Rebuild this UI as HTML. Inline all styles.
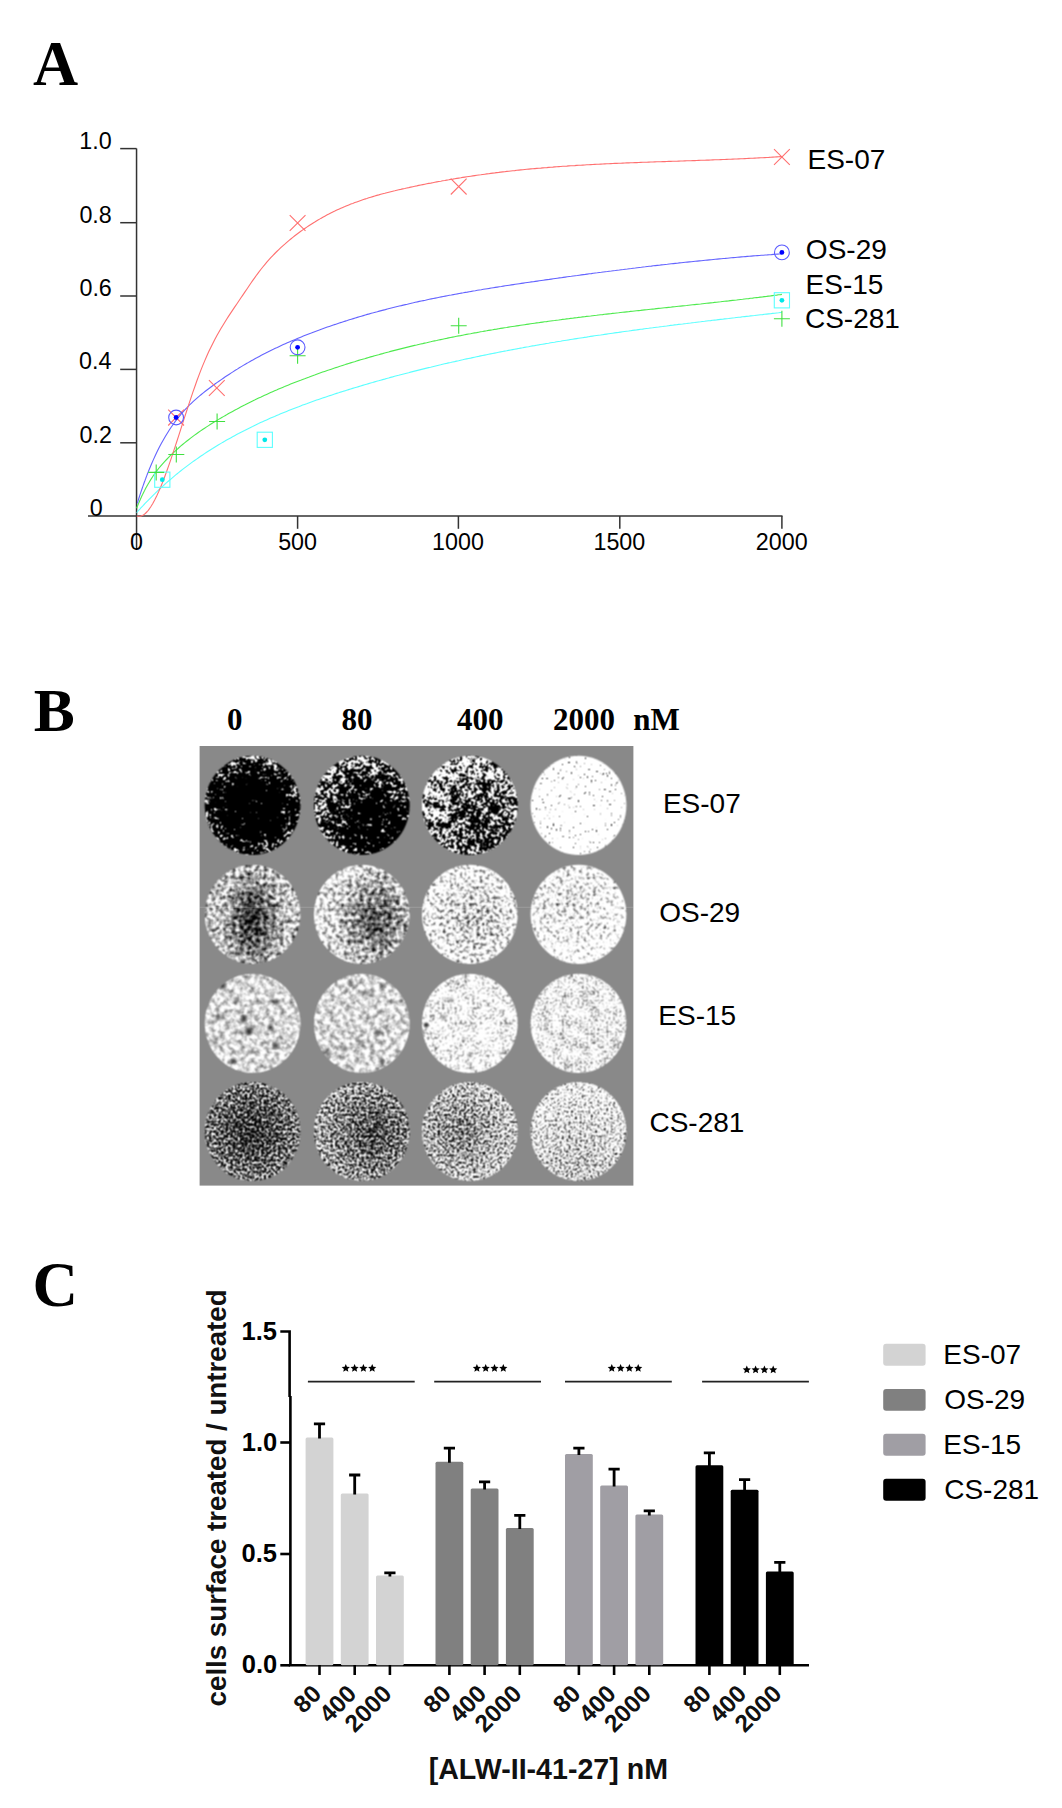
<!DOCTYPE html>
<html><head><meta charset="utf-8"><style>
html,body{margin:0;padding:0;background:#fff;}
svg{display:block;}
</style></head><body>
<svg width="1062" height="1808" viewBox="0 0 1062 1808">
<rect width="1062" height="1808" fill="#fff"/>
<text x="32.99" y="84.60" font-family='"Liberation Serif", serif' font-weight="bold" font-size="62.5" fill="#000" >A</text>
<text x="33.68" y="730.60" font-family='"Liberation Serif", serif' font-weight="bold" font-size="61.5" fill="#000" >B</text>
<text x="32.42" y="1305.50" font-family='"Liberation Serif", serif' font-weight="bold" font-size="63" fill="#000" >C</text>
<g stroke="#333" stroke-width="1.5" fill="none">
<line x1="136.55" y1="148.6" x2="136.55" y2="549"/>
<line x1="88" y1="516.0" x2="782.5" y2="516.0"/>
<line x1="120.2" y1="148.6" x2="136.55" y2="148.6"/>
<line x1="120.2" y1="222.7" x2="136.55" y2="222.7"/>
<line x1="120.2" y1="296.0" x2="136.55" y2="296.0"/>
<line x1="120.2" y1="369.4" x2="136.55" y2="369.4"/>
<line x1="120.2" y1="442.8" x2="136.55" y2="442.8"/>
<line x1="297.6" y1="516.0" x2="297.6" y2="528.8"/>
<line x1="458.4" y1="516.0" x2="458.4" y2="528.8"/>
<line x1="619.8" y1="516.0" x2="619.8" y2="528.8"/>
<line x1="781.9" y1="516.0" x2="781.9" y2="528.8"/>
</g>
<text x="79.32" y="148.60" font-family='"Liberation Sans", sans-serif' font-weight="normal" font-size="23.3" fill="#000" >1.0</text>
<text x="79.42" y="222.70" font-family='"Liberation Sans", sans-serif' font-weight="normal" font-size="23.3" fill="#000" >0.8</text>
<text x="79.43" y="296.00" font-family='"Liberation Sans", sans-serif' font-weight="normal" font-size="23.3" fill="#000" >0.6</text>
<text x="79.09" y="369.40" font-family='"Liberation Sans", sans-serif' font-weight="normal" font-size="23.3" fill="#000" >0.4</text>
<text x="79.58" y="442.80" font-family='"Liberation Sans", sans-serif' font-weight="normal" font-size="23.3" fill="#000" >0.2</text>
<text x="89.79" y="516.00" font-family='"Liberation Sans", sans-serif' font-weight="normal" font-size="23.3" fill="#000" >0</text>
<text x="130.07" y="549.50" font-family='"Liberation Sans", sans-serif' font-weight="normal" font-size="23.3" fill="#000" >0</text>
<text x="278.15" y="549.50" font-family='"Liberation Sans", sans-serif' font-weight="normal" font-size="23.3" fill="#000" >500</text>
<text x="432.05" y="549.50" font-family='"Liberation Sans", sans-serif' font-weight="normal" font-size="23.3" fill="#000" >1000</text>
<text x="593.45" y="549.50" font-family='"Liberation Sans", sans-serif' font-weight="normal" font-size="23.3" fill="#000" >1500</text>
<text x="755.85" y="549.50" font-family='"Liberation Sans", sans-serif' font-weight="normal" font-size="23.3" fill="#000" >2000</text>
<path d="M136.6,512.6 L137.1,512.1 L137.6,511.5 L138.1,511.0 L138.6,510.4 L139.1,509.9 L139.6,509.3 L140.1,508.8 L140.6,508.2 L141.1,507.7 L141.6,507.2 L142.1,506.6 L142.6,506.1 L143.1,505.6 L143.6,505.0 L144.1,504.5 L144.6,504.0 L145.1,503.4 L145.6,502.9 L146.1,502.4 L146.6,501.9 L147.1,501.4 L147.6,500.9 L148.1,500.3 L148.6,499.8 L150.6,497.8 L152.6,495.8 L154.6,493.9 L156.6,491.9 L158.6,490.0 L160.6,488.2 L162.6,486.3 L164.6,484.5 L166.6,482.7 L168.6,481.0 L170.6,479.3 L172.6,477.6 L174.6,475.9 L176.6,474.2 L178.6,472.6 L180.6,471.0 L182.6,469.4 L184.6,467.9 L186.6,466.4 L188.6,464.9 L190.6,463.4 L192.6,461.9 L194.6,460.5 L196.6,459.1 L198.6,457.7 L200.6,456.3 L202.6,455.0 L204.6,453.6 L206.6,452.3 L208.6,451.0 L210.6,449.7 L212.6,448.5 L214.6,447.2 L216.6,446.0 L218.6,444.8 L220.6,443.6 L222.6,442.4 L224.6,441.3 L226.6,440.1 L228.6,439.0 L230.6,437.9 L232.6,436.8 L234.6,435.7 L236.6,434.6 L238.6,433.6 L240.6,432.5 L242.6,431.5 L244.6,430.5 L246.6,429.4 L248.6,428.4 L250.6,427.4 L252.6,426.5 L254.6,425.5 L256.6,424.5 L258.6,423.6 L260.6,422.6 L262.6,421.7 L264.6,420.8 L266.6,419.9 L268.6,419.0 L270.6,418.1 L272.6,417.2 L274.6,416.4 L276.6,415.5 L278.6,414.7 L280.6,413.8 L282.6,413.0 L284.6,412.2 L286.6,411.4 L288.6,410.6 L290.6,409.8 L292.6,409.0 L294.6,408.2 L296.6,407.4 L298.6,406.7 L300.6,405.9 L302.6,405.1 L304.6,404.4 L306.6,403.7 L308.6,402.9 L310.6,402.2 L312.6,401.5 L314.6,400.8 L316.6,400.1 L318.6,399.4 L320.6,398.7 L322.6,398.0 L324.6,397.4 L326.6,396.7 L328.6,396.0 L330.6,395.4 L332.6,394.7 L334.6,394.0 L336.6,393.4 L338.6,392.8 L340.6,392.1 L342.6,391.5 L344.6,390.9 L346.6,390.2 L348.6,389.6 L350.6,389.0 L352.6,388.4 L354.6,387.8 L356.6,387.2 L358.6,386.6 L360.6,386.0 L362.6,385.4 L364.6,384.8 L366.6,384.2 L368.6,383.6 L370.6,383.0 L372.6,382.5 L374.6,381.9 L376.6,381.3 L378.6,380.8 L380.6,380.2 L382.6,379.6 L384.6,379.1 L386.6,378.5 L388.6,378.0 L390.6,377.4 L392.6,376.9 L394.6,376.3 L396.6,375.8 L398.6,375.3 L400.6,374.7 L402.6,374.2 L404.6,373.7 L406.6,373.2 L408.6,372.7 L410.6,372.1 L412.6,371.6 L414.6,371.1 L416.6,370.6 L418.6,370.1 L420.6,369.6 L422.6,369.1 L424.6,368.6 L426.6,368.1 L428.6,367.6 L430.6,367.2 L432.6,366.7 L434.6,366.2 L436.6,365.7 L438.6,365.2 L440.6,364.8 L442.6,364.3 L444.6,363.8 L446.6,363.4 L448.6,362.9 L450.6,362.5 L452.6,362.0 L454.6,361.6 L456.6,361.1 L458.6,360.7 L460.6,360.2 L462.6,359.8 L464.6,359.3 L466.6,358.9 L468.6,358.5 L470.6,358.1 L472.6,357.6 L474.6,357.2 L476.6,356.8 L478.6,356.4 L480.6,355.9 L482.6,355.5 L484.6,355.1 L486.6,354.7 L488.6,354.3 L490.6,353.9 L492.6,353.5 L494.6,353.1 L496.6,352.7 L498.6,352.3 L500.6,351.9 L502.6,351.5 L504.6,351.1 L506.6,350.8 L508.6,350.4 L510.6,350.0 L512.6,349.6 L514.6,349.2 L516.6,348.9 L518.6,348.5 L520.6,348.1 L522.6,347.8 L524.6,347.4 L526.6,347.0 L528.6,346.7 L530.6,346.3 L532.6,345.9 L534.6,345.6 L536.6,345.2 L538.6,344.9 L540.6,344.5 L542.6,344.2 L544.6,343.9 L546.6,343.5 L548.6,343.2 L550.6,342.8 L552.6,342.5 L554.6,342.2 L556.6,341.8 L558.6,341.5 L560.6,341.2 L562.6,340.8 L564.6,340.5 L566.6,340.2 L568.6,339.9 L570.6,339.5 L572.6,339.2 L574.6,338.9 L576.6,338.6 L578.6,338.3 L580.6,338.0 L582.6,337.7 L584.6,337.4 L586.6,337.1 L588.6,336.7 L590.6,336.4 L592.6,336.1 L594.6,335.8 L596.6,335.5 L598.6,335.2 L600.6,335.0 L602.6,334.7 L604.6,334.4 L606.6,334.1 L608.6,333.8 L610.6,333.5 L612.6,333.2 L614.6,332.9 L616.6,332.6 L618.6,332.4 L620.6,332.1 L622.6,331.8 L624.6,331.5 L626.6,331.2 L628.6,331.0 L630.6,330.7 L632.6,330.4 L634.6,330.1 L636.6,329.9 L638.6,329.6 L640.6,329.3 L642.6,329.1 L644.6,328.8 L646.6,328.5 L648.6,328.3 L650.6,328.0 L652.6,327.8 L654.6,327.5 L656.6,327.2 L658.6,327.0 L660.6,326.7 L662.6,326.5 L664.6,326.2 L666.6,326.0 L668.6,325.7 L670.6,325.4 L672.6,325.2 L674.6,324.9 L676.6,324.7 L678.6,324.4 L680.6,324.2 L682.6,324.0 L684.6,323.7 L686.6,323.5 L688.6,323.2 L690.6,323.0 L692.6,322.7 L694.6,322.5 L696.6,322.2 L698.6,322.0 L700.6,321.8 L702.6,321.5 L704.6,321.3 L706.6,321.0 L708.6,320.8 L710.6,320.6 L712.6,320.3 L714.6,320.1 L716.6,319.9 L718.6,319.6 L720.6,319.4 L722.6,319.2 L724.6,318.9 L726.6,318.7 L728.6,318.5 L730.6,318.2 L732.6,318.0 L734.6,317.8 L736.6,317.5 L738.6,317.3 L740.6,317.1 L742.6,316.8 L744.6,316.6 L746.6,316.4 L748.6,316.2 L750.6,315.9 L752.6,315.7 L754.6,315.5 L756.6,315.2 L758.6,315.0 L760.6,314.8 L762.6,314.6 L764.6,314.3 L766.6,314.1 L768.6,313.9 L770.6,313.7 L772.6,313.4 L774.6,313.2 L776.6,313.0 L778.6,312.8 L780.6,312.5 L781.9,312.4" fill="none" stroke="#5cffff" stroke-width="1.1"/>
<path d="M136.6,508.2 L137.1,507.0 L137.6,505.8 L138.1,504.5 L138.6,503.4 L139.1,502.2 L139.6,501.0 L140.1,499.9 L140.6,498.8 L141.1,497.7 L141.6,496.6 L142.1,495.5 L142.6,494.5 L143.1,493.4 L143.6,492.4 L144.1,491.4 L144.6,490.5 L145.1,489.5 L145.6,488.5 L146.1,487.6 L146.6,486.7 L147.1,485.8 L147.6,484.9 L148.1,484.0 L148.6,483.2 L150.6,479.9 L152.6,476.8 L154.6,473.8 L156.6,471.1 L158.6,468.5 L160.6,466.1 L162.6,463.8 L164.6,461.6 L166.6,459.5 L168.6,457.4 L170.6,455.4 L172.6,453.5 L174.6,451.6 L176.6,449.8 L178.6,448.0 L180.6,446.2 L182.6,444.5 L184.6,442.9 L186.6,441.3 L188.6,439.7 L190.6,438.1 L192.6,436.6 L194.6,435.1 L196.6,433.7 L198.6,432.3 L200.6,430.9 L202.6,429.5 L204.6,428.2 L206.6,426.9 L208.6,425.6 L210.6,424.3 L212.6,423.0 L214.6,421.8 L216.6,420.6 L218.6,419.4 L220.6,418.2 L222.6,417.1 L224.6,415.9 L226.6,414.8 L228.6,413.6 L230.6,412.5 L232.6,411.4 L234.6,410.3 L236.6,409.3 L238.6,408.2 L240.6,407.1 L242.6,406.1 L244.6,405.1 L246.6,404.0 L248.6,403.0 L250.6,402.0 L252.6,401.0 L254.6,400.1 L256.6,399.1 L258.6,398.1 L260.6,397.2 L262.6,396.2 L264.6,395.3 L266.6,394.4 L268.6,393.5 L270.6,392.6 L272.6,391.7 L274.6,390.8 L276.6,390.0 L278.6,389.1 L280.6,388.2 L282.6,387.4 L284.6,386.6 L286.6,385.7 L288.6,384.9 L290.6,384.1 L292.6,383.3 L294.6,382.5 L296.6,381.7 L298.6,380.9 L300.6,380.2 L302.6,379.4 L304.6,378.7 L306.6,377.9 L308.6,377.2 L310.6,376.4 L312.6,375.7 L314.6,375.0 L316.6,374.2 L318.6,373.5 L320.6,372.8 L322.6,372.1 L324.6,371.4 L326.6,370.7 L328.6,370.1 L330.6,369.4 L332.6,368.7 L334.6,368.0 L336.6,367.4 L338.6,366.7 L340.6,366.1 L342.6,365.4 L344.6,364.8 L346.6,364.1 L348.6,363.5 L350.6,362.9 L352.6,362.3 L354.6,361.7 L356.6,361.0 L358.6,360.4 L360.6,359.8 L362.6,359.2 L364.6,358.7 L366.6,358.1 L368.6,357.5 L370.6,356.9 L372.6,356.4 L374.6,355.8 L376.6,355.2 L378.6,354.7 L380.6,354.1 L382.6,353.6 L384.6,353.0 L386.6,352.5 L388.6,352.0 L390.6,351.4 L392.6,350.9 L394.6,350.4 L396.6,349.9 L398.6,349.4 L400.6,348.9 L402.6,348.4 L404.6,347.9 L406.6,347.4 L408.6,346.9 L410.6,346.4 L412.6,345.9 L414.6,345.4 L416.6,345.0 L418.6,344.5 L420.6,344.0 L422.6,343.6 L424.6,343.1 L426.6,342.7 L428.6,342.2 L430.6,341.8 L432.6,341.3 L434.6,340.9 L436.6,340.5 L438.6,340.0 L440.6,339.6 L442.6,339.2 L444.6,338.8 L446.6,338.4 L448.6,337.9 L450.6,337.5 L452.6,337.1 L454.6,336.7 L456.6,336.3 L458.6,335.9 L460.6,335.6 L462.6,335.2 L464.6,334.8 L466.6,334.4 L468.6,334.0 L470.6,333.7 L472.6,333.3 L474.6,332.9 L476.6,332.6 L478.6,332.2 L480.6,331.8 L482.6,331.5 L484.6,331.1 L486.6,330.8 L488.6,330.4 L490.6,330.1 L492.6,329.8 L494.6,329.4 L496.6,329.1 L498.6,328.7 L500.6,328.4 L502.6,328.1 L504.6,327.8 L506.6,327.5 L508.6,327.1 L510.6,326.8 L512.6,326.5 L514.6,326.2 L516.6,325.9 L518.6,325.6 L520.6,325.3 L522.6,325.0 L524.6,324.7 L526.6,324.4 L528.6,324.1 L530.6,323.8 L532.6,323.5 L534.6,323.2 L536.6,322.9 L538.6,322.7 L540.6,322.4 L542.6,322.1 L544.6,321.8 L546.6,321.6 L548.6,321.3 L550.6,321.0 L552.6,320.7 L554.6,320.5 L556.6,320.2 L558.6,320.0 L560.6,319.7 L562.6,319.4 L564.6,319.2 L566.6,318.9 L568.6,318.7 L570.6,318.4 L572.6,318.2 L574.6,317.9 L576.6,317.7 L578.6,317.4 L580.6,317.2 L582.6,316.9 L584.6,316.7 L586.6,316.4 L588.6,316.2 L590.6,316.0 L592.6,315.7 L594.6,315.5 L596.6,315.3 L598.6,315.0 L600.6,314.8 L602.6,314.6 L604.6,314.3 L606.6,314.1 L608.6,313.9 L610.6,313.7 L612.6,313.4 L614.6,313.2 L616.6,313.0 L618.6,312.8 L620.6,312.5 L622.6,312.3 L624.6,312.1 L626.6,311.9 L628.6,311.7 L630.6,311.4 L632.6,311.2 L634.6,311.0 L636.6,310.8 L638.6,310.6 L640.6,310.4 L642.6,310.1 L644.6,309.9 L646.6,309.7 L648.6,309.5 L650.6,309.3 L652.6,309.1 L654.6,308.9 L656.6,308.6 L658.6,308.4 L660.6,308.2 L662.6,308.0 L664.6,307.8 L666.6,307.6 L668.6,307.4 L670.6,307.2 L672.6,306.9 L674.6,306.7 L676.6,306.5 L678.6,306.3 L680.6,306.1 L682.6,305.9 L684.6,305.7 L686.6,305.5 L688.6,305.2 L690.6,305.0 L692.6,304.8 L694.6,304.6 L696.6,304.4 L698.6,304.2 L700.6,304.0 L702.6,303.7 L704.6,303.5 L706.6,303.3 L708.6,303.1 L710.6,302.9 L712.6,302.7 L714.6,302.4 L716.6,302.2 L718.6,302.0 L720.6,301.8 L722.6,301.5 L724.6,301.3 L726.6,301.1 L728.6,300.9 L730.6,300.6 L732.6,300.4 L734.6,300.2 L736.6,300.0 L738.6,299.7 L740.6,299.5 L742.6,299.3 L744.6,299.0 L746.6,298.8 L748.6,298.6 L750.6,298.3 L752.6,298.1 L754.6,297.8 L756.6,297.6 L758.6,297.4 L760.6,297.1 L762.6,296.9 L764.6,296.6 L766.6,296.4 L768.6,296.1 L770.6,295.9 L772.6,295.6 L774.6,295.3 L776.6,295.1 L778.6,294.8 L780.6,294.6 L781.9,294.4" fill="none" stroke="#4fea4f" stroke-width="1.1"/>
<path d="M137.3,503.3 L137.8,501.7 L138.3,500.1 L138.8,498.5 L139.3,497.0 L139.8,495.4 L140.3,493.9 L140.8,492.4 L141.3,490.9 L141.8,489.5 L142.3,488.0 L142.8,486.6 L143.3,485.1 L143.8,483.7 L144.3,482.3 L144.8,481.0 L145.3,479.6 L145.8,478.3 L146.3,476.9 L146.8,475.6 L147.3,474.3 L147.8,473.0 L148.3,471.8 L148.8,470.5 L149.3,469.3 L151.3,464.5 L153.3,459.9 L155.3,455.5 L157.3,451.3 L159.3,447.3 L161.3,443.5 L163.3,439.9 L165.3,436.5 L167.3,433.2 L169.3,430.0 L171.3,427.0 L173.3,424.2 L175.3,421.4 L177.3,418.8 L179.3,416.3 L181.3,413.9 L183.3,411.6 L185.3,409.4 L187.3,407.3 L189.3,405.2 L191.3,403.3 L193.3,401.4 L195.3,399.6 L197.3,397.8 L199.3,396.2 L201.3,394.5 L203.3,392.9 L205.3,391.3 L207.3,389.8 L209.3,388.3 L211.3,386.8 L213.3,385.3 L215.3,383.8 L217.3,382.4 L219.3,381.0 L221.3,379.6 L223.3,378.2 L225.3,376.8 L227.3,375.5 L229.3,374.2 L231.3,372.9 L233.3,371.6 L235.3,370.3 L237.3,369.1 L239.3,367.8 L241.3,366.6 L243.3,365.4 L245.3,364.2 L247.3,363.1 L249.3,361.9 L251.3,360.8 L253.3,359.7 L255.3,358.5 L257.3,357.5 L259.3,356.4 L261.3,355.3 L263.3,354.3 L265.3,353.3 L267.3,352.2 L269.3,351.2 L271.3,350.2 L273.3,349.3 L275.3,348.3 L277.3,347.4 L279.3,346.4 L281.3,345.5 L283.3,344.6 L285.3,343.7 L287.3,342.8 L289.3,341.9 L291.3,341.0 L293.3,340.2 L295.3,339.4 L297.3,338.5 L299.3,337.7 L301.3,336.9 L303.3,336.1 L305.3,335.3 L307.3,334.5 L309.3,333.7 L311.3,333.0 L313.3,332.2 L315.3,331.4 L317.3,330.7 L319.3,330.0 L321.3,329.2 L323.3,328.5 L325.3,327.8 L327.3,327.1 L329.3,326.4 L331.3,325.7 L333.3,325.0 L335.3,324.4 L337.3,323.7 L339.3,323.0 L341.3,322.4 L343.3,321.7 L345.3,321.1 L347.3,320.5 L349.3,319.8 L351.3,319.2 L353.3,318.6 L355.3,318.0 L357.3,317.4 L359.3,316.8 L361.3,316.2 L363.3,315.6 L365.3,315.0 L367.3,314.4 L369.3,313.9 L371.3,313.3 L373.3,312.8 L375.3,312.2 L377.3,311.7 L379.3,311.1 L381.3,310.6 L383.3,310.1 L385.3,309.6 L387.3,309.0 L389.3,308.5 L391.3,308.0 L393.3,307.5 L395.3,307.0 L397.3,306.5 L399.3,306.0 L401.3,305.6 L403.3,305.1 L405.3,304.6 L407.3,304.2 L409.3,303.7 L411.3,303.2 L413.3,302.8 L415.3,302.3 L417.3,301.9 L419.3,301.4 L421.3,301.0 L423.3,300.6 L425.3,300.2 L427.3,299.7 L429.3,299.3 L431.3,298.9 L433.3,298.5 L435.3,298.1 L437.3,297.7 L439.3,297.3 L441.3,296.9 L443.3,296.5 L445.3,296.1 L447.3,295.7 L449.3,295.3 L451.3,295.0 L453.3,294.6 L455.3,294.2 L457.3,293.9 L459.3,293.5 L461.3,293.1 L463.3,292.8 L465.3,292.4 L467.3,292.1 L469.3,291.7 L471.3,291.4 L473.3,291.0 L475.3,290.7 L477.3,290.3 L479.3,290.0 L481.3,289.7 L483.3,289.3 L485.3,289.0 L487.3,288.7 L489.3,288.4 L491.3,288.0 L493.3,287.7 L495.3,287.4 L497.3,287.1 L499.3,286.8 L501.3,286.5 L503.3,286.1 L505.3,285.8 L507.3,285.5 L509.3,285.2 L511.3,284.9 L513.3,284.6 L515.3,284.3 L517.3,284.0 L519.3,283.7 L521.3,283.4 L523.3,283.1 L525.3,282.8 L527.3,282.5 L529.3,282.2 L531.3,281.9 L533.3,281.7 L535.3,281.4 L537.3,281.1 L539.3,280.8 L541.3,280.5 L543.3,280.2 L545.3,279.9 L547.3,279.6 L549.3,279.4 L551.3,279.1 L553.3,278.8 L555.3,278.5 L557.3,278.2 L559.3,277.9 L561.3,277.7 L563.3,277.4 L565.3,277.1 L567.3,276.8 L569.3,276.5 L571.3,276.3 L573.3,276.0 L575.3,275.7 L577.3,275.5 L579.3,275.2 L581.3,274.9 L583.3,274.6 L585.3,274.4 L587.3,274.1 L589.3,273.8 L591.3,273.6 L593.3,273.3 L595.3,273.0 L597.3,272.8 L599.3,272.5 L601.3,272.3 L603.3,272.0 L605.3,271.7 L607.3,271.5 L609.3,271.2 L611.3,271.0 L613.3,270.7 L615.3,270.5 L617.3,270.2 L619.3,270.0 L621.3,269.7 L623.3,269.5 L625.3,269.2 L627.3,269.0 L629.3,268.7 L631.3,268.5 L633.3,268.2 L635.3,268.0 L637.3,267.7 L639.3,267.5 L641.3,267.3 L643.3,267.0 L645.3,266.8 L647.3,266.5 L649.3,266.3 L651.3,266.1 L653.3,265.8 L655.3,265.6 L657.3,265.4 L659.3,265.2 L661.3,264.9 L663.3,264.7 L665.3,264.5 L667.3,264.3 L669.3,264.0 L671.3,263.8 L673.3,263.6 L675.3,263.4 L677.3,263.2 L679.3,262.9 L681.3,262.7 L683.3,262.5 L685.3,262.3 L687.3,262.1 L689.3,261.9 L691.3,261.7 L693.3,261.5 L695.3,261.3 L697.3,261.1 L699.3,260.9 L701.3,260.7 L703.3,260.5 L705.3,260.3 L707.3,260.1 L709.3,259.9 L711.3,259.7 L713.3,259.5 L715.3,259.3 L717.3,259.1 L719.3,258.9 L721.3,258.7 L723.3,258.5 L725.3,258.4 L727.3,258.2 L729.3,258.0 L731.3,257.8 L733.3,257.6 L735.3,257.5 L737.3,257.3 L739.3,257.1 L741.3,256.9 L743.3,256.8 L745.3,256.6 L747.3,256.4 L749.3,256.3 L751.3,256.1 L753.3,255.9 L755.3,255.8 L757.3,255.6 L759.3,255.5 L761.3,255.3 L763.3,255.2 L765.3,255.0 L767.3,254.9 L769.3,254.7 L771.3,254.6 L773.3,254.4 L775.3,254.3 L777.3,254.1 L779.3,254.0 L781.3,253.8 L781.9,253.8" fill="none" stroke="#6464ff" stroke-width="1.1"/>
<path d="M136.8,516.0 L137.3,516.1 L137.8,516.2 L138.3,516.3 L138.8,516.3 L139.3,516.3 L139.8,516.3 L140.3,516.2 L140.8,516.1 L141.3,515.9 L141.8,515.8 L142.3,515.5 L142.8,515.3 L143.3,515.0 L143.8,514.7 L144.3,514.3 L144.8,513.9 L145.3,513.5 L145.8,513.0 L146.3,512.5 L146.8,512.0 L147.3,511.5 L147.8,510.9 L148.3,510.3 L148.8,509.6 L150.8,506.8 L152.8,503.5 L154.8,499.8 L156.8,495.8 L158.8,491.4 L160.8,486.7 L162.8,481.7 L164.8,476.5 L166.8,471.0 L168.8,465.4 L170.8,459.6 L172.8,453.6 L174.8,447.6 L176.8,441.5 L178.8,435.3 L180.8,429.1 L182.8,422.8 L184.8,416.6 L186.8,410.5 L188.8,404.4 L190.8,398.3 L192.8,392.4 L194.8,386.7 L196.8,381.0 L198.8,375.6 L200.8,370.4 L202.8,365.4 L204.8,360.6 L206.8,356.0 L208.8,351.6 L210.8,347.4 L212.8,343.4 L214.8,339.6 L216.8,335.8 L218.8,332.3 L220.8,328.8 L222.8,325.5 L224.8,322.2 L226.8,319.0 L228.8,315.9 L230.8,312.9 L232.8,309.9 L234.8,306.9 L236.8,304.0 L238.8,301.0 L240.8,298.0 L242.8,295.1 L244.8,292.1 L246.8,289.2 L248.8,286.2 L250.8,283.3 L252.8,280.4 L254.8,277.6 L256.8,274.8 L258.8,272.2 L260.8,269.5 L262.8,267.0 L264.8,264.6 L266.8,262.2 L268.8,259.9 L270.8,257.7 L272.8,255.6 L274.8,253.5 L276.8,251.5 L278.8,249.6 L280.8,247.7 L282.8,245.8 L284.8,244.1 L286.8,242.3 L288.8,240.6 L290.8,239.0 L292.8,237.4 L294.8,235.8 L296.8,234.3 L298.8,232.8 L300.8,231.3 L302.8,229.9 L304.8,228.5 L306.8,227.1 L308.8,225.8 L310.8,224.5 L312.8,223.2 L314.8,222.0 L316.8,220.7 L318.8,219.6 L320.8,218.4 L322.8,217.3 L324.8,216.2 L326.8,215.1 L328.8,214.1 L330.8,213.0 L332.8,212.0 L334.8,211.1 L336.8,210.1 L338.8,209.2 L340.8,208.3 L342.8,207.4 L344.8,206.6 L346.8,205.7 L348.8,204.9 L350.8,204.1 L352.8,203.4 L354.8,202.6 L356.8,201.9 L358.8,201.2 L360.8,200.5 L362.8,199.8 L364.8,199.1 L366.8,198.5 L368.8,197.8 L370.8,197.2 L372.8,196.6 L374.8,196.0 L376.8,195.4 L378.8,194.9 L380.8,194.3 L382.8,193.8 L384.8,193.3 L386.8,192.7 L388.8,192.2 L390.8,191.7 L392.8,191.2 L394.8,190.8 L396.8,190.3 L398.8,189.8 L400.8,189.4 L402.8,188.9 L404.8,188.5 L406.8,188.0 L408.8,187.6 L410.8,187.1 L412.8,186.7 L414.8,186.3 L416.8,185.9 L418.8,185.4 L420.8,185.0 L422.8,184.6 L424.8,184.2 L426.8,183.8 L428.8,183.4 L430.8,183.1 L432.8,182.7 L434.8,182.3 L436.8,181.9 L438.8,181.5 L440.8,181.2 L442.8,180.8 L444.8,180.5 L446.8,180.1 L448.8,179.8 L450.8,179.4 L452.8,179.1 L454.8,178.7 L456.8,178.4 L458.8,178.1 L460.8,177.8 L462.8,177.4 L464.8,177.1 L466.8,176.8 L468.8,176.5 L470.8,176.2 L472.8,175.9 L474.8,175.6 L476.8,175.3 L478.8,175.0 L480.8,174.8 L482.8,174.5 L484.8,174.2 L486.8,173.9 L488.8,173.7 L490.8,173.4 L492.8,173.1 L494.8,172.9 L496.8,172.6 L498.8,172.4 L500.8,172.1 L502.8,171.9 L504.8,171.7 L506.8,171.4 L508.8,171.2 L510.8,171.0 L512.8,170.8 L514.8,170.6 L516.8,170.3 L518.8,170.1 L520.8,169.9 L522.8,169.7 L524.8,169.5 L526.8,169.3 L528.8,169.1 L530.8,168.9 L532.8,168.8 L534.8,168.6 L536.8,168.4 L538.8,168.2 L540.8,168.1 L542.8,167.9 L544.8,167.7 L546.8,167.6 L548.8,167.4 L550.8,167.2 L552.8,167.1 L554.8,166.9 L556.8,166.8 L558.8,166.6 L560.8,166.5 L562.8,166.3 L564.8,166.2 L566.8,166.1 L568.8,165.9 L570.8,165.8 L572.8,165.7 L574.8,165.6 L576.8,165.4 L578.8,165.3 L580.8,165.2 L582.8,165.1 L584.8,165.0 L586.8,164.8 L588.8,164.7 L590.8,164.6 L592.8,164.5 L594.8,164.4 L596.8,164.3 L598.8,164.2 L600.8,164.1 L602.8,164.0 L604.8,163.9 L606.8,163.8 L608.8,163.7 L610.8,163.6 L612.8,163.5 L614.8,163.4 L616.8,163.4 L618.8,163.3 L620.8,163.2 L622.8,163.1 L624.8,163.0 L626.8,162.9 L628.8,162.9 L630.8,162.8 L632.8,162.7 L634.8,162.6 L636.8,162.6 L638.8,162.5 L640.8,162.4 L642.8,162.3 L644.8,162.3 L646.8,162.2 L648.8,162.1 L650.8,162.0 L652.8,162.0 L654.8,161.9 L656.8,161.8 L658.8,161.8 L660.8,161.7 L662.8,161.6 L664.8,161.6 L666.8,161.5 L668.8,161.4 L670.8,161.4 L672.8,161.3 L674.8,161.2 L676.8,161.2 L678.8,161.1 L680.8,161.0 L682.8,161.0 L684.8,160.9 L686.8,160.8 L688.8,160.8 L690.8,160.7 L692.8,160.6 L694.8,160.6 L696.8,160.5 L698.8,160.4 L700.8,160.3 L702.8,160.3 L704.8,160.2 L706.8,160.1 L708.8,160.1 L710.8,160.0 L712.8,159.9 L714.8,159.8 L716.8,159.8 L718.8,159.7 L720.8,159.6 L722.8,159.5 L724.8,159.5 L726.8,159.4 L728.8,159.3 L730.8,159.2 L732.8,159.1 L734.8,159.0 L736.8,159.0 L738.8,158.9 L740.8,158.8 L742.8,158.7 L744.8,158.6 L746.8,158.5 L748.8,158.4 L750.8,158.3 L752.8,158.2 L754.8,158.1 L756.8,158.0 L758.8,157.9 L760.8,157.8 L762.8,157.7 L764.8,157.6 L766.8,157.5 L768.8,157.4 L770.8,157.2 L772.8,157.1 L774.8,157.0 L776.8,156.9 L778.8,156.8 L780.8,156.6 L781.9,156.6" fill="none" stroke="#ff7070" stroke-width="1.1"/>
<path d="M168.2,409.70000000000005 L184.0,425.5 M168.2,425.5 L184.0,409.70000000000005" stroke="#ff7070" stroke-width="1.1" fill="none"/>
<path d="M208.9,380.1 L224.70000000000002,395.9 M208.9,395.9 L224.70000000000002,380.1" stroke="#ff7070" stroke-width="1.1" fill="none"/>
<path d="M289.70000000000005,215.1 L305.5,230.9 M289.70000000000005,230.9 L305.5,215.1" stroke="#ff7070" stroke-width="1.1" fill="none"/>
<path d="M450.8,178.7 L466.59999999999997,194.5 M450.8,194.5 L466.59999999999997,178.7" stroke="#ff7070" stroke-width="1.1" fill="none"/>
<path d="M774.0,149.1 L789.8,164.9 M774.0,164.9 L789.8,149.1" stroke="#ff7070" stroke-width="1.1" fill="none"/>
<rect x="154.70000000000002" y="472.09999999999997" width="15.2" height="15.2" fill="none" stroke="#5cffff" stroke-width="1.1"/><circle cx="162.3" cy="479.7" r="2.4" fill="#00e8e8"/>
<rect x="257.2" y="432.2" width="15.2" height="15.2" fill="none" stroke="#5cffff" stroke-width="1.1"/><circle cx="264.8" cy="439.8" r="2.4" fill="#00e8e8"/>
<rect x="774.3" y="292.7" width="15.2" height="15.2" fill="none" stroke="#5cffff" stroke-width="1.1"/><circle cx="781.9" cy="300.3" r="2.4" fill="#00e8e8"/>
<path d="M148.2,472.4 L164.2,472.4 M156.2,464.4 L156.2,480.4" stroke="#40e040" stroke-width="1.1" fill="none"/>
<path d="M168.3,454.5 L184.3,454.5 M176.3,446.5 L176.3,462.5" stroke="#40e040" stroke-width="1.1" fill="none"/>
<path d="M209.1,421.5 L225.1,421.5 M217.1,413.5 L217.1,429.5" stroke="#40e040" stroke-width="1.1" fill="none"/>
<path d="M289.6,355.8 L305.6,355.8 M297.6,347.8 L297.6,363.8" stroke="#40e040" stroke-width="1.1" fill="none"/>
<path d="M450.7,325.8 L466.7,325.8 M458.7,317.8 L458.7,333.8" stroke="#40e040" stroke-width="1.1" fill="none"/>
<path d="M773.9,318.7 L789.9,318.7 M781.9,310.7 L781.9,326.7" stroke="#40e040" stroke-width="1.1" fill="none"/>
<circle cx="176.1" cy="417.5" r="7.4" fill="none" stroke="#5a5aff" stroke-width="1.1"/><circle cx="176.1" cy="417.5" r="2.4" fill="#0000ff"/>
<circle cx="297.6" cy="347.3" r="7.4" fill="none" stroke="#5a5aff" stroke-width="1.1"/><circle cx="297.6" cy="347.3" r="2.4" fill="#0000ff"/>
<circle cx="781.9" cy="252.4" r="7.4" fill="none" stroke="#5a5aff" stroke-width="1.1"/><circle cx="781.9" cy="252.4" r="2.4" fill="#0000ff"/>
<text x="807.50" y="168.90" font-family='"Liberation Sans", sans-serif' font-weight="normal" font-size="28" fill="#000" >ES-07</text>
<text x="805.87" y="258.60" font-family='"Liberation Sans", sans-serif' font-weight="normal" font-size="28" fill="#000" >OS-29</text>
<text x="805.60" y="294.00" font-family='"Liberation Sans", sans-serif' font-weight="normal" font-size="28" fill="#000" >ES-15</text>
<text x="804.98" y="328.20" font-family='"Liberation Sans", sans-serif' font-weight="normal" font-size="28" fill="#000" >CS-281</text>
<text x="227.02" y="729.50" font-family='"Liberation Serif", serif' font-weight="bold" font-size="31" fill="#000" >0</text>
<text x="341.57" y="729.50" font-family='"Liberation Serif", serif' font-weight="bold" font-size="31" fill="#000" >80</text>
<text x="456.98" y="729.50" font-family='"Liberation Serif", serif' font-weight="bold" font-size="31" fill="#000" >400</text>
<text x="552.90" y="729.50" font-family='"Liberation Serif", serif' font-weight="bold" font-size="31" fill="#000" >2000</text>
<text x="633.27" y="729.50" font-family='"Liberation Serif", serif' font-weight="bold" font-size="31" fill="#000" >nM</text>
<rect x="199.6" y="746" width="433.8" height="439.6" fill="#898989"/>
<defs><radialGradient id="g00" cx="0.5" cy="0.52" r="0.52"><stop offset="0" stop-color="rgb(10,10,10)"/><stop offset="0.45" stop-color="rgb(10,10,10)"/><stop offset="1" stop-color="rgb(245,245,245)"/></radialGradient>
<clipPath id="c00"><ellipse cx="252.6" cy="805.4" rx="47.9" ry="49.6"/></clipPath>
<filter id="f00" filterUnits="userSpaceOnUse" x="202.7" y="753.8" width="99.8" height="103.2" color-interpolation-filters="sRGB">
<feTurbulence type="fractalNoise" baseFrequency="0.1" numOctaves="2" seed="3" result="n"/>
<feColorMatrix in="n" type="matrix" values="1 0 0 0 0 1 0 0 0 0 1 0 0 0 0 0 0 0 0 1" result="ng"/><feTurbulence type="fractalNoise" baseFrequency="0.35" numOctaves="2" seed="103" result="n2"/>
<feColorMatrix in="n2" type="matrix" values="1 0 0 0 0 1 0 0 0 0 1 0 0 0 0 0 0 0 0 1" result="ng2"/>
<feComposite in="ng" in2="ng2" operator="arithmetic" k1="0" k2="0.35" k3="0.650" k4="0" result="ngm"/>
<feComposite in="SourceGraphic" in2="ngm" operator="arithmetic" k1="0" k2="0.17392" k3="0.82608" k4="0.00000"/>
<feComponentTransfer><feFuncR type="linear" slope="23.2422" intercept="-13.3361"/><feFuncG type="linear" slope="23.2422" intercept="-13.3361"/><feFuncB type="linear" slope="23.2422" intercept="-13.3361"/></feComponentTransfer>
</filter>
<radialGradient id="g01" cx="0.62" cy="0.66" r="0.62"><stop offset="0" stop-color="rgb(11,11,11)"/><stop offset="0.2" stop-color="rgb(11,11,11)"/><stop offset="1" stop-color="rgb(244,244,244)"/></radialGradient>
<clipPath id="c01"><ellipse cx="361.8" cy="805.4" rx="47.9" ry="49.6"/></clipPath>
<filter id="f01" filterUnits="userSpaceOnUse" x="311.90000000000003" y="753.8" width="99.8" height="103.2" color-interpolation-filters="sRGB">
<feTurbulence type="fractalNoise" baseFrequency="0.1" numOctaves="2" seed="7" result="n"/>
<feColorMatrix in="n" type="matrix" values="1 0 0 0 0 1 0 0 0 0 1 0 0 0 0 0 0 0 0 1" result="ng"/><feTurbulence type="fractalNoise" baseFrequency="0.33" numOctaves="2" seed="107" result="n2"/>
<feColorMatrix in="n2" type="matrix" values="1 0 0 0 0 1 0 0 0 0 1 0 0 0 0 0 0 0 0 1" result="ng2"/>
<feComposite in="ng" in2="ng2" operator="arithmetic" k1="0" k2="0.35" k3="0.650" k4="0" result="ngm"/>
<feComposite in="SourceGraphic" in2="ngm" operator="arithmetic" k1="0" k2="0.16174" k3="0.83826" k4="0.00000"/>
<feComponentTransfer><feFuncR type="linear" slope="22.9045" intercept="-12.5566"/><feFuncG type="linear" slope="22.9045" intercept="-12.5566"/><feFuncB type="linear" slope="22.9045" intercept="-12.5566"/></feComponentTransfer>
</filter>
<radialGradient id="g02" cx="0.6" cy="0.66" r="0.62"><stop offset="0" stop-color="rgb(16,16,16)"/><stop offset="0" stop-color="rgb(16,16,16)"/><stop offset="1" stop-color="rgb(239,239,239)"/></radialGradient>
<clipPath id="c02"><ellipse cx="469.8" cy="805.4" rx="47.9" ry="49.6"/></clipPath>
<filter id="f02" filterUnits="userSpaceOnUse" x="419.90000000000003" y="753.8" width="99.8" height="103.2" color-interpolation-filters="sRGB">
<feTurbulence type="fractalNoise" baseFrequency="0.1" numOctaves="2" seed="11" result="n"/>
<feColorMatrix in="n" type="matrix" values="1 0 0 0 0 1 0 0 0 0 1 0 0 0 0 0 0 0 0 1" result="ng"/><feTurbulence type="fractalNoise" baseFrequency="0.35" numOctaves="2" seed="111" result="n2"/>
<feColorMatrix in="n2" type="matrix" values="1 0 0 0 0 1 0 0 0 0 1 0 0 0 0 0 0 0 0 1" result="ng2"/>
<feComposite in="ng" in2="ng2" operator="arithmetic" k1="0" k2="0.35" k3="0.650" k4="0" result="ngm"/>
<feComposite in="SourceGraphic" in2="ngm" operator="arithmetic" k1="0" k2="0.11496" k3="0.88504" k4="0.00000"/>
<feComponentTransfer><feFuncR type="linear" slope="21.6938" intercept="-10.6138"/><feFuncG type="linear" slope="21.6938" intercept="-10.6138"/><feFuncB type="linear" slope="21.6938" intercept="-10.6138"/></feComponentTransfer>
</filter>
<radialGradient id="g03" cx="0.5" cy="0.6" r="0.7"><stop offset="0" stop-color="rgb(211,211,211)"/><stop offset="0" stop-color="rgb(211,211,211)"/><stop offset="1" stop-color="rgb(44,44,44)"/></radialGradient>
<clipPath id="c03"><ellipse cx="578.5" cy="805.4" rx="47.9" ry="49.6"/></clipPath>
<filter id="f03" filterUnits="userSpaceOnUse" x="528.6" y="753.8" width="99.8" height="103.2" color-interpolation-filters="sRGB">
<feTurbulence type="fractalNoise" baseFrequency="0.45" numOctaves="2" seed="13" result="n"/>
<feColorMatrix in="n" type="matrix" values="1 0 0 0 0 1 0 0 0 0 1 0 0 0 0 0 0 0 0 1" result="ng"/>
<feComposite in="SourceGraphic" in2="ng" operator="arithmetic" k1="0" k2="0.05422" k3="0.94578" k4="0.00000"/>
<feComponentTransfer><feFuncR type="linear" slope="16.9173" intercept="-4.2061"/><feFuncG type="linear" slope="16.9173" intercept="-4.2061"/><feFuncB type="linear" slope="16.9173" intercept="-4.2061"/></feComponentTransfer>
</filter>
<radialGradient id="g10" cx="0.5" cy="0.55" r="0.42" gradientTransform="translate(0.5,0.55) scale(0.75,1.25) translate(-0.5,-0.55)"><stop offset="0" stop-color="rgb(16,16,16)"/><stop offset="0" stop-color="rgb(16,16,16)"/><stop offset="1" stop-color="rgb(239,239,239)"/></radialGradient>
<clipPath id="c10"><ellipse cx="252.6" cy="914.4" rx="47.9" ry="49.6"/></clipPath>
<filter id="f10" filterUnits="userSpaceOnUse" x="202.7" y="862.8" width="99.8" height="103.2" color-interpolation-filters="sRGB">
<feTurbulence type="fractalNoise" baseFrequency="0.25" numOctaves="3" seed="17" result="n"/>
<feColorMatrix in="n" type="matrix" values="1 0 0 0 0 1 0 0 0 0 1 0 0 0 0 0 0 0 0 1" result="ng"/>
<feComposite in="SourceGraphic" in2="ng" operator="arithmetic" k1="0" k2="0.28279" k3="0.71721" k4="0.00000"/>
<feComponentTransfer><feFuncR type="linear" slope="2.6770" intercept="-0.9107"/><feFuncG type="linear" slope="2.6770" intercept="-0.9107"/><feFuncB type="linear" slope="2.6770" intercept="-0.9107"/></feComponentTransfer>
</filter>
<radialGradient id="g11" cx="0.64" cy="0.55" r="0.5" gradientTransform="translate(0.64,0.55) scale(0.9,1.1) translate(-0.64,-0.55)"><stop offset="0" stop-color="rgb(17,17,17)"/><stop offset="0" stop-color="rgb(17,17,17)"/><stop offset="1" stop-color="rgb(238,238,238)"/></radialGradient>
<clipPath id="c11"><ellipse cx="361.8" cy="914.4" rx="47.9" ry="49.6"/></clipPath>
<filter id="f11" filterUnits="userSpaceOnUse" x="311.90000000000003" y="862.8" width="99.8" height="103.2" color-interpolation-filters="sRGB">
<feTurbulence type="fractalNoise" baseFrequency="0.25" numOctaves="3" seed="19" result="n"/>
<feColorMatrix in="n" type="matrix" values="1 0 0 0 0 1 0 0 0 0 1 0 0 0 0 0 0 0 0 1" result="ng"/>
<feComposite in="SourceGraphic" in2="ng" operator="arithmetic" k1="0" k2="0.27650" k3="0.72350" k4="0.00000"/>
<feComponentTransfer><feFuncR type="linear" slope="2.6538" intercept="-0.7430"/><feFuncG type="linear" slope="2.6538" intercept="-0.7430"/><feFuncB type="linear" slope="2.6538" intercept="-0.7430"/></feComponentTransfer>
</filter>
<radialGradient id="g12" cx="0.55" cy="0.55" r="0.5"><stop offset="0" stop-color="rgb(30,30,30)"/><stop offset="0" stop-color="rgb(30,30,30)"/><stop offset="1" stop-color="rgb(225,225,225)"/></radialGradient>
<clipPath id="c12"><ellipse cx="469.8" cy="914.4" rx="47.9" ry="49.6"/></clipPath>
<filter id="f12" filterUnits="userSpaceOnUse" x="419.90000000000003" y="862.8" width="99.8" height="103.2" color-interpolation-filters="sRGB">
<feTurbulence type="fractalNoise" baseFrequency="0.3" numOctaves="3" seed="23" result="n"/>
<feColorMatrix in="n" type="matrix" values="1 0 0 0 0 1 0 0 0 0 1 0 0 0 0 0 0 0 0 1" result="ng"/>
<feComposite in="SourceGraphic" in2="ng" operator="arithmetic" k1="0" k2="0.14332" k3="0.85668" k4="0.00000"/>
<feComponentTransfer><feFuncR type="linear" slope="2.8015" intercept="-0.4707"/><feFuncG type="linear" slope="2.8015" intercept="-0.4707"/><feFuncB type="linear" slope="2.8015" intercept="-0.4707"/></feComponentTransfer>
</filter>
<radialGradient id="g13" cx="0.42" cy="0.38" r="0.55"><stop offset="0" stop-color="rgb(35,35,35)"/><stop offset="0" stop-color="rgb(35,35,35)"/><stop offset="1" stop-color="rgb(220,220,220)"/></radialGradient>
<clipPath id="c13"><ellipse cx="578.5" cy="914.4" rx="47.9" ry="49.6"/></clipPath>
<filter id="f13" filterUnits="userSpaceOnUse" x="528.6" y="862.8" width="99.8" height="103.2" color-interpolation-filters="sRGB">
<feTurbulence type="fractalNoise" baseFrequency="0.3" numOctaves="3" seed="29" result="n"/>
<feColorMatrix in="n" type="matrix" values="1 0 0 0 0 1 0 0 0 0 1 0 0 0 0 0 0 0 0 1" result="ng"/>
<feComposite in="SourceGraphic" in2="ng" operator="arithmetic" k1="0" k2="0.12651" k3="0.87349" k4="0.00000"/>
<feComponentTransfer><feFuncR type="linear" slope="2.7476" intercept="-0.3263"/><feFuncG type="linear" slope="2.7476" intercept="-0.3263"/><feFuncB type="linear" slope="2.7476" intercept="-0.3263"/></feComponentTransfer>
</filter>
<radialGradient id="g20" cx="0.5" cy="0.5" r="0.7"><stop offset="0" stop-color="rgb(98,98,98)"/><stop offset="0" stop-color="rgb(98,98,98)"/><stop offset="1" stop-color="rgb(157,157,157)"/></radialGradient>
<clipPath id="c20"><ellipse cx="252.6" cy="1023.4" rx="47.9" ry="49.6"/></clipPath>
<filter id="f20" filterUnits="userSpaceOnUse" x="202.7" y="971.8" width="99.8" height="103.2" color-interpolation-filters="sRGB">
<feTurbulence type="fractalNoise" baseFrequency="0.2" numOctaves="4" seed="31" result="n"/>
<feColorMatrix in="n" type="matrix" values="1 0 0 0 0 1 0 0 0 0 1 0 0 0 0 0 0 0 0 1" result="ng"/>
<feComposite in="SourceGraphic" in2="ng" operator="arithmetic" k1="0" k2="0.07955" k3="0.92045" k4="0.00000"/>
<feComponentTransfer><feFuncR type="linear" slope="1.3037" intercept="0.2002"/><feFuncG type="linear" slope="1.3037" intercept="0.2002"/><feFuncB type="linear" slope="1.3037" intercept="0.2002"/></feComponentTransfer>
</filter>
<radialGradient id="g21" cx="0.5" cy="0.5" r="0.7"><stop offset="0" stop-color="rgb(98,98,98)"/><stop offset="0" stop-color="rgb(98,98,98)"/><stop offset="1" stop-color="rgb(157,157,157)"/></radialGradient>
<clipPath id="c21"><ellipse cx="361.8" cy="1023.4" rx="47.9" ry="49.6"/></clipPath>
<filter id="f21" filterUnits="userSpaceOnUse" x="311.90000000000003" y="971.8" width="99.8" height="103.2" color-interpolation-filters="sRGB">
<feTurbulence type="fractalNoise" baseFrequency="0.2" numOctaves="4" seed="37" result="n"/>
<feColorMatrix in="n" type="matrix" values="1 0 0 0 0 1 0 0 0 0 1 0 0 0 0 0 0 0 0 1" result="ng"/>
<feComposite in="SourceGraphic" in2="ng" operator="arithmetic" k1="0" k2="0.07955" k3="0.92045" k4="0.00000"/>
<feComponentTransfer><feFuncR type="linear" slope="1.3037" intercept="0.2002"/><feFuncG type="linear" slope="1.3037" intercept="0.2002"/><feFuncB type="linear" slope="1.3037" intercept="0.2002"/></feComponentTransfer>
</filter>
<radialGradient id="g22" cx="0.5" cy="0.5" r="0.7"><stop offset="0" stop-color="rgb(167,167,167)"/><stop offset="0" stop-color="rgb(167,167,167)"/><stop offset="1" stop-color="rgb(88,88,88)"/></radialGradient>
<clipPath id="c22"><ellipse cx="469.8" cy="1023.4" rx="47.9" ry="49.6"/></clipPath>
<filter id="f22" filterUnits="userSpaceOnUse" x="419.90000000000003" y="971.8" width="99.8" height="103.2" color-interpolation-filters="sRGB">
<feTurbulence type="fractalNoise" baseFrequency="0.1" numOctaves="2" seed="41" result="n"/>
<feColorMatrix in="n" type="matrix" values="1 0 0 0 0 1 0 0 0 0 1 0 0 0 0 0 0 0 0 1" result="ng"/><feTurbulence type="fractalNoise" baseFrequency="0.4" numOctaves="1" seed="141" result="n2"/>
<feColorMatrix in="n2" type="matrix" values="1 0 0 0 0 1 0 0 0 0 1 0 0 0 0 0 0 0 0 1" result="ng2"/>
<feComposite in="ng" in2="ng2" operator="arithmetic" k1="0" k2="0.3" k3="0.700" k4="0" result="ngm"/>
<feComposite in="SourceGraphic" in2="ngm" operator="arithmetic" k1="0" k2="0.05024" k3="0.94976" k4="0.00000"/>
<feComponentTransfer><feFuncR type="linear" slope="2.5480" intercept="-0.2739"/><feFuncG type="linear" slope="2.5480" intercept="-0.2739"/><feFuncB type="linear" slope="2.5480" intercept="-0.2739"/></feComponentTransfer>
</filter>
<radialGradient id="g23" cx="0.5" cy="0.5" r="0.7"><stop offset="0" stop-color="rgb(124,124,124)"/><stop offset="0" stop-color="rgb(124,124,124)"/><stop offset="1" stop-color="rgb(124,124,124)"/></radialGradient>
<clipPath id="c23"><ellipse cx="578.5" cy="1023.4" rx="47.9" ry="49.6"/></clipPath>
<filter id="f23" filterUnits="userSpaceOnUse" x="528.6" y="971.8" width="99.8" height="103.2" color-interpolation-filters="sRGB">
<feTurbulence type="fractalNoise" baseFrequency="0.1" numOctaves="2" seed="43" result="n"/>
<feColorMatrix in="n" type="matrix" values="1 0 0 0 0 1 0 0 0 0 1 0 0 0 0 0 0 0 0 1" result="ng"/><feTurbulence type="fractalNoise" baseFrequency="0.45" numOctaves="1" seed="143" result="n2"/>
<feColorMatrix in="n2" type="matrix" values="1 0 0 0 0 1 0 0 0 0 1 0 0 0 0 0 0 0 0 1" result="ng2"/>
<feComposite in="ng" in2="ng2" operator="arithmetic" k1="0" k2="0.3" k3="0.700" k4="0" result="ngm"/>
<feComposite in="SourceGraphic" in2="ngm" operator="arithmetic" k1="0" k2="0.03593" k3="0.96407" k4="0.00000"/>
<feComponentTransfer><feFuncR type="linear" slope="2.5102" intercept="-0.2921"/><feFuncG type="linear" slope="2.5102" intercept="-0.2921"/><feFuncB type="linear" slope="2.5102" intercept="-0.2921"/></feComponentTransfer>
</filter>
<radialGradient id="g30" cx="0.5" cy="0.5" r="0.55"><stop offset="0" stop-color="rgb(22,22,22)"/><stop offset="0" stop-color="rgb(22,22,22)"/><stop offset="1" stop-color="rgb(233,233,233)"/></radialGradient>
<clipPath id="c30"><ellipse cx="252.6" cy="1131.5" rx="47.9" ry="49.6"/></clipPath>
<filter id="f30" filterUnits="userSpaceOnUse" x="202.7" y="1079.9" width="99.8" height="103.2" color-interpolation-filters="sRGB">
<feTurbulence type="fractalNoise" baseFrequency="0.42" numOctaves="2" seed="47" result="n"/>
<feColorMatrix in="n" type="matrix" values="1 0 0 0 0 1 0 0 0 0 1 0 0 0 0 0 0 0 0 1" result="ng"/>
<feComposite in="SourceGraphic" in2="ng" operator="arithmetic" k1="0" k2="0.15053" k3="0.84947" k4="0.00000"/>
<feComponentTransfer><feFuncR type="linear" slope="3.9789" intercept="-1.6722"/><feFuncG type="linear" slope="3.9789" intercept="-1.6722"/><feFuncB type="linear" slope="3.9789" intercept="-1.6722"/></feComponentTransfer>
</filter>
<radialGradient id="g31" cx="0.62" cy="0.52" r="0.55"><stop offset="0" stop-color="rgb(24,24,24)"/><stop offset="0" stop-color="rgb(24,24,24)"/><stop offset="1" stop-color="rgb(231,231,231)"/></radialGradient>
<clipPath id="c31"><ellipse cx="361.8" cy="1131.5" rx="47.9" ry="49.6"/></clipPath>
<filter id="f31" filterUnits="userSpaceOnUse" x="311.90000000000003" y="1079.9" width="99.8" height="103.2" color-interpolation-filters="sRGB">
<feTurbulence type="fractalNoise" baseFrequency="0.42" numOctaves="2" seed="53" result="n"/>
<feColorMatrix in="n" type="matrix" values="1 0 0 0 0 1 0 0 0 0 1 0 0 0 0 0 0 0 0 1" result="ng"/>
<feComposite in="SourceGraphic" in2="ng" operator="arithmetic" k1="0" k2="0.14160" k3="0.85840" k4="0.00000"/>
<feComponentTransfer><feFuncR type="linear" slope="3.9376" intercept="-1.5112"/><feFuncG type="linear" slope="3.9376" intercept="-1.5112"/><feFuncB type="linear" slope="3.9376" intercept="-1.5112"/></feComponentTransfer>
</filter>
<radialGradient id="g32" cx="0.4" cy="0.5" r="0.5"><stop offset="0" stop-color="rgb(27,27,27)"/><stop offset="0" stop-color="rgb(27,27,27)"/><stop offset="1" stop-color="rgb(228,228,228)"/></radialGradient>
<clipPath id="c32"><ellipse cx="469.8" cy="1131.5" rx="47.9" ry="49.6"/></clipPath>
<filter id="f32" filterUnits="userSpaceOnUse" x="419.90000000000003" y="1079.9" width="99.8" height="103.2" color-interpolation-filters="sRGB">
<feTurbulence type="fractalNoise" baseFrequency="0.42" numOctaves="2" seed="59" result="n"/>
<feColorMatrix in="n" type="matrix" values="1 0 0 0 0 1 0 0 0 0 1 0 0 0 0 0 0 0 0 1" result="ng"/>
<feComposite in="SourceGraphic" in2="ng" operator="arithmetic" k1="0" k2="0.12698" k3="0.87302" k4="0.00000"/>
<feComponentTransfer><feFuncR type="linear" slope="3.8716" intercept="-1.2678"/><feFuncG type="linear" slope="3.8716" intercept="-1.2678"/><feFuncB type="linear" slope="3.8716" intercept="-1.2678"/></feComponentTransfer>
</filter>
<radialGradient id="g33" cx="0.5" cy="0.85" r="0.7"><stop offset="0" stop-color="rgb(35,35,35)"/><stop offset="0" stop-color="rgb(35,35,35)"/><stop offset="1" stop-color="rgb(220,220,220)"/></radialGradient>
<clipPath id="c33"><ellipse cx="578.5" cy="1131.5" rx="47.9" ry="49.6"/></clipPath>
<filter id="f33" filterUnits="userSpaceOnUse" x="528.6" y="1079.9" width="99.8" height="103.2" color-interpolation-filters="sRGB">
<feTurbulence type="fractalNoise" baseFrequency="0.45" numOctaves="2" seed="61" result="n"/>
<feColorMatrix in="n" type="matrix" values="1 0 0 0 0 1 0 0 0 0 1 0 0 0 0 0 0 0 0 1" result="ng"/>
<feComposite in="SourceGraphic" in2="ng" operator="arithmetic" k1="0" k2="0.10055" k3="0.89945" k4="0.00000"/>
<feComponentTransfer><feFuncR type="linear" slope="3.7579" intercept="-0.9430"/><feFuncG type="linear" slope="3.7579" intercept="-0.9430"/><feFuncB type="linear" slope="3.7579" intercept="-0.9430"/></feComponentTransfer>
</filter>
<filter id="soft" x="-5%" y="-5%" width="110%" height="110%" color-interpolation-filters="sRGB"><feConvolveMatrix order="3" kernelMatrix="1 2 1 2 4 2 1 2 1" divisor="16" edgeMode="none"/></filter>
<radialGradient id="spot"><stop offset="0" stop-color="#000" stop-opacity="0.95"/><stop offset="0.45" stop-color="#000" stop-opacity="0.6"/><stop offset="1" stop-color="#000" stop-opacity="0"/></radialGradient></defs>
<g filter="url(#soft)"><g clip-path="url(#c00)"><rect x="202.7" y="753.8" width="99.8" height="103.2" fill="url(#g00)" filter="url(#f00)"/></g></g>
<g filter="url(#soft)"><g clip-path="url(#c01)"><rect x="311.90000000000003" y="753.8" width="99.8" height="103.2" fill="url(#g01)" filter="url(#f01)"/></g></g>
<g filter="url(#soft)"><g clip-path="url(#c02)"><rect x="419.90000000000003" y="753.8" width="99.8" height="103.2" fill="url(#g02)" filter="url(#f02)"/></g></g>
<g filter="url(#soft)"><g clip-path="url(#c03)"><rect x="528.6" y="753.8" width="99.8" height="103.2" fill="url(#g03)" filter="url(#f03)"/></g></g>
<g filter="url(#soft)"><g clip-path="url(#c10)"><rect x="202.7" y="862.8" width="99.8" height="103.2" fill="url(#g10)" filter="url(#f10)"/></g></g>
<g filter="url(#soft)"><g clip-path="url(#c11)"><rect x="311.90000000000003" y="862.8" width="99.8" height="103.2" fill="url(#g11)" filter="url(#f11)"/></g></g>
<g filter="url(#soft)"><g clip-path="url(#c12)"><rect x="419.90000000000003" y="862.8" width="99.8" height="103.2" fill="url(#g12)" filter="url(#f12)"/></g></g>
<g filter="url(#soft)"><g clip-path="url(#c13)"><rect x="528.6" y="862.8" width="99.8" height="103.2" fill="url(#g13)" filter="url(#f13)"/></g></g>
<g filter="url(#soft)"><g clip-path="url(#c20)"><rect x="202.7" y="971.8" width="99.8" height="103.2" fill="url(#g20)" filter="url(#f20)"/><circle cx="223" cy="986" r="5" fill="url(#spot)" opacity="0.8"/><circle cx="243.9" cy="1018.9" r="5" fill="url(#spot)" opacity="0.8"/><circle cx="248.9" cy="1031.4" r="5.5" fill="url(#spot)" opacity="0.95"/><circle cx="270.4" cy="1027.4" r="4.5" fill="url(#spot)" opacity="0.75"/><circle cx="276.3" cy="1001.9" r="4.5" fill="url(#spot)" opacity="0.7"/><circle cx="275.8" cy="1045.8" r="5" fill="url(#spot)" opacity="0.8"/><circle cx="233.9" cy="1060.8" r="4.5" fill="url(#spot)" opacity="0.6"/><circle cx="220.5" cy="1016.9" r="6" fill="url(#spot)" opacity="0.35"/><circle cx="214" cy="1041.9" r="6" fill="url(#spot)" opacity="0.3"/><circle cx="236" cy="1001" r="5" fill="url(#spot)" opacity="0.3"/></g></g>
<g filter="url(#soft)"><g clip-path="url(#c21)"><rect x="311.90000000000003" y="971.8" width="99.8" height="103.2" fill="url(#g21)" filter="url(#f21)"/><circle cx="350.4" cy="982.8" r="4.5" fill="url(#spot)" opacity="0.6"/><circle cx="382.5" cy="985.9" r="4.5" fill="url(#spot)" opacity="0.6"/><circle cx="367" cy="993" r="5" fill="url(#spot)" opacity="0.45"/><circle cx="377.3" cy="1032.5" r="5" fill="url(#spot)" opacity="0.6"/><circle cx="327.6" cy="1053.2" r="6" fill="url(#spot)" opacity="0.5"/><circle cx="344" cy="1049" r="5" fill="url(#spot)" opacity="0.5"/><circle cx="381.5" cy="1061.5" r="4.5" fill="url(#spot)" opacity="0.5"/><circle cx="360.7" cy="1042.9" r="5" fill="url(#spot)" opacity="0.4"/></g></g>
<g filter="url(#soft)"><g clip-path="url(#c22)"><rect x="419.90000000000003" y="971.8" width="99.8" height="103.2" fill="url(#g22)" filter="url(#f22)"/><circle cx="426.2" cy="1025" r="3.5" fill="url(#spot)" opacity="1.0"/><circle cx="443.6" cy="1017.4" r="4" fill="url(#spot)" opacity="0.45"/><circle cx="451" cy="1000" r="4" fill="url(#spot)" opacity="0.35"/><circle cx="470" cy="1055" r="4" fill="url(#spot)" opacity="0.35"/></g></g>
<g filter="url(#soft)"><g clip-path="url(#c23)"><rect x="528.6" y="971.8" width="99.8" height="103.2" fill="url(#g23)" filter="url(#f23)"/></g></g>
<g filter="url(#soft)"><g clip-path="url(#c30)"><rect x="202.7" y="1079.9" width="99.8" height="103.2" fill="url(#g30)" filter="url(#f30)"/></g></g>
<g filter="url(#soft)"><g clip-path="url(#c31)"><rect x="311.90000000000003" y="1079.9" width="99.8" height="103.2" fill="url(#g31)" filter="url(#f31)"/></g></g>
<g filter="url(#soft)"><g clip-path="url(#c32)"><rect x="419.90000000000003" y="1079.9" width="99.8" height="103.2" fill="url(#g32)" filter="url(#f32)"/></g></g>
<g filter="url(#soft)"><g clip-path="url(#c33)"><rect x="528.6" y="1079.9" width="99.8" height="103.2" fill="url(#g33)" filter="url(#f33)"/></g></g>
<line x1="199.6" y1="907.3" x2="633.4" y2="907.3" stroke="#fff" stroke-width="1" opacity="0.16"/>
<text x="662.90" y="813.10" font-family='"Liberation Sans", sans-serif' font-weight="normal" font-size="28" fill="#000" >ES-07</text>
<text x="659.27" y="922.10" font-family='"Liberation Sans", sans-serif' font-weight="normal" font-size="28" fill="#000" >OS-29</text>
<text x="658.30" y="1024.50" font-family='"Liberation Sans", sans-serif' font-weight="normal" font-size="28" fill="#000" >ES-15</text>
<text x="649.48" y="1132.40" font-family='"Liberation Sans", sans-serif' font-weight="normal" font-size="28" fill="#000" >CS-281</text>
<g fill="none" stroke="#000" stroke-width="2.6">
<path d="M280.3,1331.5 H289.6 V1397"/>
<path d="M290.4,1396 V1665.3"/>
<line x1="280.3" y1="1442.5" x2="290" y2="1442.5"/>
<line x1="280.3" y1="1554.0" x2="290" y2="1554.0"/>
<line x1="280.3" y1="1665.3" x2="290" y2="1665.3"/>
<line x1="288.7" y1="1665.3" x2="809" y2="1665.3"/>
</g>
<text x="241.46" y="1339.53" font-family='"Liberation Sans", sans-serif' font-weight="bold" font-size="25.5" fill="#000" >1.5</text>
<text x="241.80" y="1450.53" font-family='"Liberation Sans", sans-serif' font-weight="bold" font-size="25.5" fill="#000" >1.0</text>
<text x="241.46" y="1562.03" font-family='"Liberation Sans", sans-serif' font-weight="bold" font-size="25.5" fill="#000" >0.5</text>
<text x="241.80" y="1673.33" font-family='"Liberation Sans", sans-serif' font-weight="bold" font-size="25.5" fill="#000" >0.0</text>
<rect x="305.6" y="1437.5" width="27.8" height="227.8" rx="1.5" fill="#d3d3d3"/>
<path d="M319.5,1438.5 V1423.8 M313.9,1423.8 H325.1" stroke="#000" stroke-width="2.8" fill="none"/>
<line x1="319.5" y1="1665" x2="319.5" y2="1675" stroke="#000" stroke-width="2.6"/>
<rect x="340.8" y="1493.4" width="27.8" height="171.9" rx="1.5" fill="#d3d3d3"/>
<path d="M354.7,1494.4 V1475.0 M349.1,1475.0 H360.3" stroke="#000" stroke-width="2.8" fill="none"/>
<line x1="354.7" y1="1665" x2="354.7" y2="1675" stroke="#000" stroke-width="2.6"/>
<rect x="376.0" y="1575.4" width="27.8" height="89.9" rx="1.5" fill="#d3d3d3"/>
<path d="M389.9,1576.4 V1572.8 M384.3,1572.8 H395.5" stroke="#000" stroke-width="2.8" fill="none"/>
<line x1="389.9" y1="1665" x2="389.9" y2="1675" stroke="#000" stroke-width="2.6"/>
<rect x="435.5" y="1461.8" width="27.8" height="203.5" rx="1.5" fill="#808080"/>
<path d="M449.4,1462.8 V1448.1 M443.8,1448.1 H455.0" stroke="#000" stroke-width="2.8" fill="none"/>
<line x1="449.4" y1="1665" x2="449.4" y2="1675" stroke="#000" stroke-width="2.6"/>
<rect x="470.7" y="1488.4" width="27.8" height="176.9" rx="1.5" fill="#808080"/>
<path d="M484.6,1489.4 V1481.8 M479.0,1481.8 H490.2" stroke="#000" stroke-width="2.8" fill="none"/>
<line x1="484.6" y1="1665" x2="484.6" y2="1675" stroke="#000" stroke-width="2.6"/>
<rect x="505.9" y="1528.0" width="27.8" height="137.3" rx="1.5" fill="#808080"/>
<path d="M519.8,1529.0 V1515.3 M514.2,1515.3 H525.4" stroke="#000" stroke-width="2.8" fill="none"/>
<line x1="519.8" y1="1665" x2="519.8" y2="1675" stroke="#000" stroke-width="2.6"/>
<rect x="565.0" y="1453.9" width="27.8" height="211.4" rx="1.5" fill="#a09ea4"/>
<path d="M578.9,1454.9 V1448.1 M573.3,1448.1 H584.5" stroke="#000" stroke-width="2.8" fill="none"/>
<line x1="578.9" y1="1665" x2="578.9" y2="1675" stroke="#000" stroke-width="2.6"/>
<rect x="600.2" y="1485.5" width="27.8" height="179.8" rx="1.5" fill="#a09ea4"/>
<path d="M614.1,1486.5 V1469.2 M608.5,1469.2 H619.7" stroke="#000" stroke-width="2.8" fill="none"/>
<line x1="614.1" y1="1665" x2="614.1" y2="1675" stroke="#000" stroke-width="2.6"/>
<rect x="635.4" y="1514.5" width="27.8" height="150.8" rx="1.5" fill="#a09ea4"/>
<path d="M649.3,1515.5 V1510.8 M643.7,1510.8 H654.9" stroke="#000" stroke-width="2.8" fill="none"/>
<line x1="649.3" y1="1665" x2="649.3" y2="1675" stroke="#000" stroke-width="2.6"/>
<rect x="695.5" y="1465.2" width="27.8" height="200.1" rx="1.5" fill="#000000"/>
<path d="M709.4,1466.2 V1452.8 M703.8,1452.8 H715.0" stroke="#000" stroke-width="2.8" fill="none"/>
<line x1="709.4" y1="1665" x2="709.4" y2="1675" stroke="#000" stroke-width="2.6"/>
<rect x="730.7" y="1489.8" width="27.8" height="175.5" rx="1.5" fill="#000000"/>
<path d="M744.6,1490.8 V1479.7 M739.0,1479.7 H750.2" stroke="#000" stroke-width="2.8" fill="none"/>
<line x1="744.6" y1="1665" x2="744.6" y2="1675" stroke="#000" stroke-width="2.6"/>
<rect x="765.9" y="1571.5" width="27.8" height="93.8" rx="1.5" fill="#000000"/>
<path d="M779.8,1572.5 V1562.3 M774.2,1562.3 H785.4" stroke="#000" stroke-width="2.8" fill="none"/>
<line x1="779.8" y1="1665" x2="779.8" y2="1675" stroke="#000" stroke-width="2.6"/>
<line x1="307.9" y1="1381.6" x2="414.7" y2="1381.6" stroke="#222" stroke-width="1.7"/>
<polygon points="345.80,1364.00 346.98,1366.68 349.89,1366.97 347.70,1368.92 348.33,1371.78 345.80,1370.30 343.27,1371.78 343.90,1368.92 341.71,1366.97 344.62,1366.68" fill="#000"/>
<polygon points="354.60,1364.00 355.78,1366.68 358.69,1366.97 356.50,1368.92 357.13,1371.78 354.60,1370.30 352.07,1371.78 352.70,1368.92 350.51,1366.97 353.42,1366.68" fill="#000"/>
<polygon points="363.40,1364.00 364.58,1366.68 367.49,1366.97 365.30,1368.92 365.93,1371.78 363.40,1370.30 360.87,1371.78 361.50,1368.92 359.31,1366.97 362.22,1366.68" fill="#000"/>
<polygon points="372.20,1364.00 373.38,1366.68 376.29,1366.97 374.10,1368.92 374.73,1371.78 372.20,1370.30 369.67,1371.78 370.30,1368.92 368.11,1366.97 371.02,1366.68" fill="#000"/>
<line x1="434.2" y1="1381.6" x2="541.0" y2="1381.6" stroke="#222" stroke-width="1.7"/>
<polygon points="476.90,1364.00 478.08,1366.68 480.99,1366.97 478.80,1368.92 479.43,1371.78 476.90,1370.30 474.37,1371.78 475.00,1368.92 472.81,1366.97 475.72,1366.68" fill="#000"/>
<polygon points="485.70,1364.00 486.88,1366.68 489.79,1366.97 487.60,1368.92 488.23,1371.78 485.70,1370.30 483.17,1371.78 483.80,1368.92 481.61,1366.97 484.52,1366.68" fill="#000"/>
<polygon points="494.50,1364.00 495.68,1366.68 498.59,1366.97 496.40,1368.92 497.03,1371.78 494.50,1370.30 491.97,1371.78 492.60,1368.92 490.41,1366.97 493.32,1366.68" fill="#000"/>
<polygon points="503.30,1364.00 504.48,1366.68 507.39,1366.97 505.20,1368.92 505.83,1371.78 503.30,1370.30 500.77,1371.78 501.40,1368.92 499.21,1366.97 502.12,1366.68" fill="#000"/>
<line x1="565.0" y1="1381.6" x2="671.8" y2="1381.6" stroke="#222" stroke-width="1.7"/>
<polygon points="611.80,1364.00 612.98,1366.68 615.89,1366.97 613.70,1368.92 614.33,1371.78 611.80,1370.30 609.27,1371.78 609.90,1368.92 607.71,1366.97 610.62,1366.68" fill="#000"/>
<polygon points="620.60,1364.00 621.78,1366.68 624.69,1366.97 622.50,1368.92 623.13,1371.78 620.60,1370.30 618.07,1371.78 618.70,1368.92 616.51,1366.97 619.42,1366.68" fill="#000"/>
<polygon points="629.40,1364.00 630.58,1366.68 633.49,1366.97 631.30,1368.92 631.93,1371.78 629.40,1370.30 626.87,1371.78 627.50,1368.92 625.31,1366.97 628.22,1366.68" fill="#000"/>
<polygon points="638.20,1364.00 639.38,1366.68 642.29,1366.97 640.10,1368.92 640.73,1371.78 638.20,1370.30 635.67,1371.78 636.30,1368.92 634.11,1366.97 637.02,1366.68" fill="#000"/>
<line x1="702.1" y1="1381.6" x2="808.9" y2="1381.6" stroke="#222" stroke-width="1.7"/>
<polygon points="746.80,1365.50 747.98,1368.18 750.89,1368.47 748.70,1370.42 749.33,1373.28 746.80,1371.80 744.27,1373.28 744.90,1370.42 742.71,1368.47 745.62,1368.18" fill="#000"/>
<polygon points="755.60,1365.50 756.78,1368.18 759.69,1368.47 757.50,1370.42 758.13,1373.28 755.60,1371.80 753.07,1373.28 753.70,1370.42 751.51,1368.47 754.42,1368.18" fill="#000"/>
<polygon points="764.40,1365.50 765.58,1368.18 768.49,1368.47 766.30,1370.42 766.93,1373.28 764.40,1371.80 761.87,1373.28 762.50,1370.42 760.31,1368.47 763.22,1368.18" fill="#000"/>
<polygon points="773.20,1365.50 774.38,1368.18 777.29,1368.47 775.10,1370.42 775.73,1373.28 773.20,1371.80 770.67,1373.28 771.30,1370.42 769.11,1368.47 772.02,1368.18" fill="#000"/>
<rect x="883.2" y="1343.8" width="42.4" height="21.9" rx="3" fill="#d3d3d3"/>
<text x="943.30" y="1364.10" font-family='"Liberation Sans", sans-serif' font-weight="normal" font-size="28" fill="#000" >ES-07</text>
<rect x="883.2" y="1388.9" width="42.4" height="21.9" rx="3" fill="#808080"/>
<text x="944.27" y="1409.20" font-family='"Liberation Sans", sans-serif' font-weight="normal" font-size="28" fill="#000" >OS-29</text>
<rect x="883.2" y="1433.8" width="42.4" height="21.9" rx="3" fill="#a09ea4"/>
<text x="943.30" y="1454.10" font-family='"Liberation Sans", sans-serif' font-weight="normal" font-size="28" fill="#000" >ES-15</text>
<rect x="883.2" y="1478.8" width="42.4" height="21.9" rx="3" fill="#000000"/>
<text x="944.18" y="1499.10" font-family='"Liberation Sans", sans-serif' font-weight="normal" font-size="28" fill="#000" >CS-281</text>
<text transform="translate(226,1497.9) rotate(-90)" text-anchor="middle" font-family='"Liberation Sans", sans-serif' font-weight="bold" font-size="27.7" fill="#111">cells surface treated / untreated</text>
<text transform="translate(322.7,1695.3) rotate(-45)" text-anchor="end" font-family='"Liberation Sans", sans-serif' font-weight="bold" font-size="24.3" fill="#111">80</text>
<text transform="translate(357.9,1695.3) rotate(-45)" text-anchor="end" font-family='"Liberation Sans", sans-serif' font-weight="bold" font-size="24.3" fill="#111">400</text>
<text transform="translate(393.1,1695.3) rotate(-45)" text-anchor="end" font-family='"Liberation Sans", sans-serif' font-weight="bold" font-size="24.3" fill="#111">2000</text>
<text transform="translate(452.6,1695.3) rotate(-45)" text-anchor="end" font-family='"Liberation Sans", sans-serif' font-weight="bold" font-size="24.3" fill="#111">80</text>
<text transform="translate(487.8,1695.3) rotate(-45)" text-anchor="end" font-family='"Liberation Sans", sans-serif' font-weight="bold" font-size="24.3" fill="#111">400</text>
<text transform="translate(523.0,1695.3) rotate(-45)" text-anchor="end" font-family='"Liberation Sans", sans-serif' font-weight="bold" font-size="24.3" fill="#111">2000</text>
<text transform="translate(582.1,1695.3) rotate(-45)" text-anchor="end" font-family='"Liberation Sans", sans-serif' font-weight="bold" font-size="24.3" fill="#111">80</text>
<text transform="translate(617.3,1695.3) rotate(-45)" text-anchor="end" font-family='"Liberation Sans", sans-serif' font-weight="bold" font-size="24.3" fill="#111">400</text>
<text transform="translate(652.5,1695.3) rotate(-45)" text-anchor="end" font-family='"Liberation Sans", sans-serif' font-weight="bold" font-size="24.3" fill="#111">2000</text>
<text transform="translate(712.6,1695.3) rotate(-45)" text-anchor="end" font-family='"Liberation Sans", sans-serif' font-weight="bold" font-size="24.3" fill="#111">80</text>
<text transform="translate(747.8,1695.3) rotate(-45)" text-anchor="end" font-family='"Liberation Sans", sans-serif' font-weight="bold" font-size="24.3" fill="#111">400</text>
<text transform="translate(783.0,1695.3) rotate(-45)" text-anchor="end" font-family='"Liberation Sans", sans-serif' font-weight="bold" font-size="24.3" fill="#111">2000</text>
<text x="428.69" y="1778.80" font-family='"Liberation Sans", sans-serif' font-weight="bold" font-size="28.6" fill="#111" >[ALW-II-41-27] nM</text>
</svg>
</body></html>
